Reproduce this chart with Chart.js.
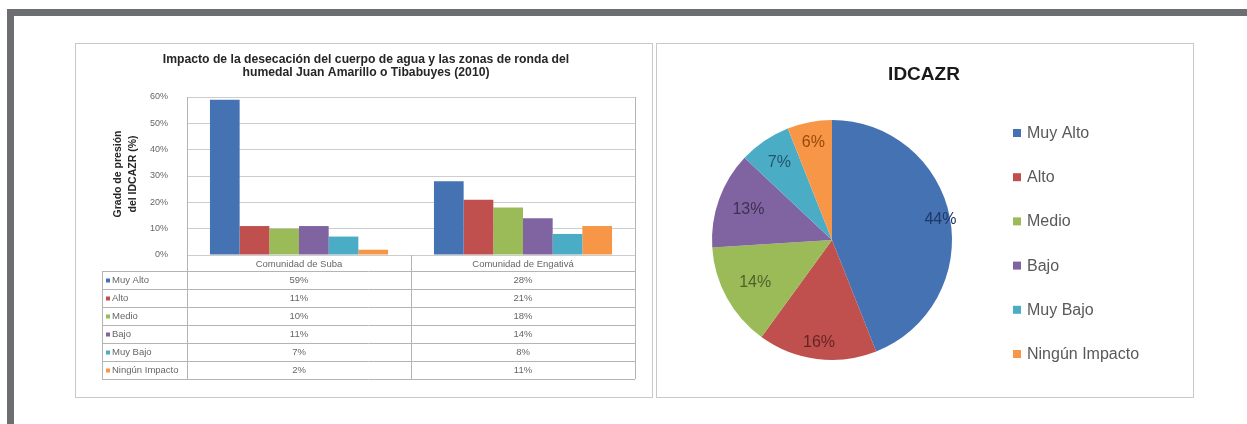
<!DOCTYPE html>
<html lang="es">
<head>
<meta charset="utf-8">
<title>IDCAZR – Humedal Juan Amarillo o Tibabuyes</title>
<script src="https://cdn.jsdelivr.net/npm/chart.js@4.4.1/dist/chart.umd.min.js"></script>
<style>
  html, body { margin: 0; padding: 0; background: #fff; width: 1247px; height: 424px; overflow: hidden; }
  .frame-top  { position: absolute; left: 7px; top: 9px; width: 1240px; height: 7px; background: #6d6e71; }
  .frame-left { position: absolute; left: 7px; top: 9px; width: 7px; height: 415px; background: #6d6e71; }
  .panel { position: absolute; box-sizing: border-box; border: 1px solid #c9c9c9; background: #fff; }
  #barPanel { left: 75px; top: 43px; width: 578px; height: 355px; }
  #piePanel { left: 656px; top: 43px; width: 538px; height: 355px; }
  canvas { position: absolute; display: block; }
  #barCanvas { left: 75px; top: 43px; }
  #pieCanvas { left: 656px; top: 43px; }
</style>
</head>
<body>
<div class="frame-top"></div>
<div class="frame-left"></div>
<div class="panel" id="barPanel"></div>
<div class="panel" id="piePanel"></div>
<canvas id="barCanvas" width="578" height="355"></canvas>
<canvas id="pieCanvas" width="538" height="355"></canvas>
<script>
// ---- data ----
const categories = ['Comunidad de Suba', 'Comunidad de Engativá'];
const levels = ['Muy Alto', 'Alto', 'Medio', 'Bajo', 'Muy Bajo', 'Ningún Impacto'];
const subaValues = [59, 11, 10, 11, 7, 2];
const engativaValues = [28, 21, 18, 14, 8, 11];
const yTickValues = [0, 10, 20, 30, 40, 50, 60];
const pieShares = [44, 16, 14, 13, 7, 6];
const barTitle = ['Impacto de la desecación del cuerpo de agua y las zonas de ronda del',
                  'humedal Juan Amarillo o Tibabuyes (2010)'];
const yAxisTitle = ['Grado de presión', 'del IDCAZR (%)'];
const pieTitle = 'IDCAZR';

// ---- styling ----
const FONT = '"Liberation Sans", Arial, sans-serif';
const levelColors = ['#4472b3', '#c0504d', '#9bbb59', '#8064a2', '#4bacc6', '#f79646'];
const labelColors = ['#1f3864', '#632523', '#4f6228', '#3f3151', '#205867', '#984807'];
const gridColor = '#cdcdcd';
const smallText = '#666666';

const pct = v => v + '%';

// ---------- bar chart with data table ----------
const barDecor = {
  id: 'barDecor',
  afterDraw(chart) {
    const ctx = chart.ctx;
    const area = chart.chartArea;
    const xs = chart.scales.x;
    const catRowH = 16, rowH = 18;
    const tableTop = area.bottom + catRowH;
    const tableBottom = tableTop + rowH * levels.length;
    const tableLeft = 27;
    const c0 = xs.getPixelForValue(0), c1 = xs.getPixelForValue(1);
    const colCenters = [c0, c1];
    const colSplit = (c0 + c1) / 2;

    ctx.save();
    // title
    ctx.fillStyle = '#262626';
    ctx.textAlign = 'center';
    ctx.textBaseline = 'middle';
    ctx.font = 'bold 12.2px ' + FONT;
    barTitle.forEach((t, i) => ctx.fillText(t, chart.width / 2 + 2, 17 + i * 13));

    // y axis title (rotated)
    ctx.save();
    ctx.translate(0, (area.top + area.bottom) / 2 - 2);
    ctx.rotate(-Math.PI / 2);
    ctx.font = 'bold 10.5px ' + FONT;
    yAxisTitle.forEach((t, i) => ctx.fillText(t, 0, 43 + i * 15));
    ctx.restore();

    // table grid
    ctx.strokeStyle = '#b4b4b4';
    ctx.lineWidth = 1;
    ctx.beginPath();
    for (let i = 0; i <= levels.length; i++) {
      const y = Math.round(tableTop + i * rowH) + 0.5;
      ctx.moveTo(tableLeft, y); ctx.lineTo(area.right, y);
    }
    ctx.moveTo(tableLeft + 0.5, tableTop); ctx.lineTo(tableLeft + 0.5, tableBottom);
    [area.left, colSplit].forEach(x => {
      const px = Math.round(x) + 0.5;
      ctx.moveTo(px, area.bottom); ctx.lineTo(px, tableBottom);
    });
    const rx = Math.round(area.right) + 0.5;
    ctx.moveTo(rx, area.top); ctx.lineTo(rx, tableBottom);
    ctx.stroke();

    // category labels
    ctx.font = '9.5px ' + FONT;
    ctx.fillStyle = smallText;
    categories.forEach((c, i) => ctx.fillText(c, colCenters[i], area.bottom + catRowH / 2 + 1));

    // rows: legend key, level name, values
    const series = [subaValues, engativaValues];
    levels.forEach((lv, r) => {
      const cy = tableTop + r * rowH + rowH / 2 + 0.5;
      ctx.fillStyle = levelColors[r];
      ctx.fillRect(tableLeft + 4, cy - 2, 4, 4);
      ctx.fillStyle = smallText;
      ctx.textAlign = 'left';
      ctx.fillText(lv, tableLeft + 10, cy);
      ctx.textAlign = 'center';
      series.forEach((s, k) => ctx.fillText(pct(s[r]), colCenters[k], cy));
    });
    ctx.restore();
  }
};

new Chart(document.getElementById('barCanvas'), {
  type: 'bar',
  data: {
    labels: categories,
    datasets: levels.map((lv, i) => ({
      label: lv,
      data: [subaValues[i], engativaValues[i]],
      backgroundColor: levelColors[i],
      borderWidth: 0,
      categoryPercentage: 0.795,
      barPercentage: 1.0
    }))
  },
  options: {
    responsive: false,
    animation: false,
    events: [],
    layout: { padding: { left: 0, right: 18, top: 54, bottom: 143 } },
    plugins: { legend: { display: false }, title: { display: false }, tooltip: { enabled: false } },
    scales: {
      x: {
        ticks: { display: false },
        grid: { display: false, drawTicks: false },
        border: { display: false },
        afterFit: s => { s.height = 0; }
      },
      y: {
        min: yTickValues[0],
        max: yTickValues[yTickValues.length - 1],
        afterBuildTicks: s => { s.ticks = yTickValues.map(v => ({ value: v })); },
        ticks: { callback: v => pct(v), color: smallText, font: { family: FONT, size: 9 }, padding: 19 },
        grid: { color: gridColor, drawTicks: false },
        border: { color: '#b4b4b4' },
        afterFit: s => { s.width = 112; }
      }
    }
  },
  plugins: [barDecor]
});

// ---------- pie chart ----------
const pieDecor = {
  id: 'pieDecor',
  afterDraw(chart, args, opts) {
    const ctx = chart.ctx;
    ctx.save();
    // title
    ctx.fillStyle = '#1a1a1a';
    ctx.textAlign = 'center';
    ctx.textBaseline = 'middle';
    ctx.font = 'bold 19px ' + FONT;
    ctx.fillText(pieTitle, 268, 32);

    // slice labels
    ctx.font = '16px ' + FONT;
    const arcs = chart.getDatasetMeta(0).data;
    arcs.forEach((arc, i) => {
      const mid = (arc.startAngle + arc.endAngle) / 2;
      const r = arc.outerRadius * opts.labelRadius[i];
      ctx.fillStyle = labelColors[i];
      ctx.fillText(pct(pieShares[i]), arc.x + Math.cos(mid) * r, arc.y + Math.sin(mid) * r);
    });

    // legend
    ctx.font = '16px ' + FONT;
    ctx.textAlign = 'left';
    levels.forEach((lv, i) => {
      const y = 90 + i * 44.2;
      ctx.fillStyle = levelColors[i];
      ctx.fillRect(357, y - 4, 8, 8);
      ctx.fillStyle = '#595959';
      ctx.fillText(lv, 371, y + 0.5);
    });
    ctx.restore();
  }
};

new Chart(document.getElementById('pieCanvas'), {
  type: 'pie',
  data: {
    labels: levels,
    datasets: [{
      data: pieShares,
      backgroundColor: levelColors,
      borderWidth: 0,
      hoverOffset: 0
    }]
  },
  options: {
    responsive: false,
    animation: false,
    events: [],
    layout: { padding: { left: 56, right: 242, top: 77, bottom: 38 } },
    plugins: {
      legend: { display: false },
      title: { display: false },
      tooltip: { enabled: false },
      pieDecor: { labelRadius: [0.92, 0.86, 0.73, 0.74, 0.78, 0.83] }
    }
  },
  plugins: [pieDecor]
});
</script>
</body>
</html>
